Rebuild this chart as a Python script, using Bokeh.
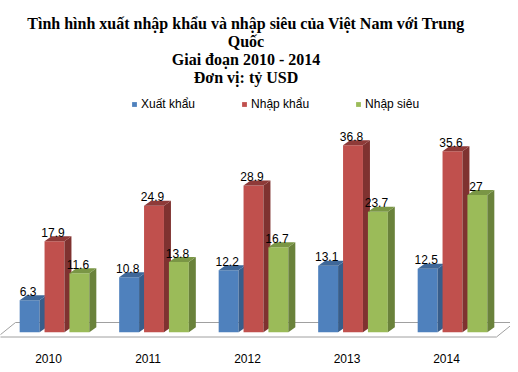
from bokeh.plotting import figure
from bokeh.models import Range1d, Legend, LegendItem
from bokeh.embed import file_html
from bokeh.resources import INLINE
from bokeh.core.properties import value

# ---------------- data ----------------
years = ["2010", "2011", "2012", "2013", "2014"]
series_names = ["Xuất khẩu", "Nhập khẩu", "Nhập siêu"]
xuat_khau = [6.3, 10.8, 12.2, 13.1, 12.5]
nhap_khau = [17.9, 24.9, 28.9, 36.8, 35.6]
nhap_sieu = [11.6, 13.8, 16.7, 23.7, 27]
title_lines = [
    "Tình hình xuất nhập khẩu và nhập siêu của Việt Nam với Trung",
    "Quốc",
    "Giai đoạn 2010 - 2014",
    "Đơn vị: tỷ USD",
]

# ---------------- styles ----------------
front_colors = ["#4F81BD", "#C0504D", "#9BBB59"]
side_colors = ["#385D8A", "#7F3230", "#6A823B"]
top_colors = ["#3F6899", "#8E3A38", "#7A9645"]

W, H = 510, 366
X0, GX = 54.0, 99.5      # px of first group centre, px per group
Y0, GY = 331.7, 5.08     # px (from top) of zero, px per unit

x_start, x_end = -X0 / GX, (W - X0) / GX
y_end, y_start = Y0 / GY, -(H - Y0) / GY

def px_x(px):
    return (px - X0) / GX

def px_y(py):
    return (Y0 - py) / GY

bar_w = 0.2
offsets = [-0.25, 0.0, 0.25]
ddx, ddy = 7 / GX, 5 / GY

p = figure(width=W, height=H, x_range=Range1d(x_start, x_end), y_range=Range1d(y_start, y_end),
           x_axis_type=None, y_axis_type=None, toolbar_location=None, output_backend="svg",
           min_border=0, background_fill_color="white", border_fill_color="white")
p.outline_line_color = None
p.grid.visible = False

n = len(years)
idx = list(range(n))

# floor
fl_front, fl_back = px_y(336.5), px_y(322)
fx0, fx1 = idx[0] - 0.573, idx[-1] + 0.442
fdx = 0.181
p.patch([fx0, fx1, fx1 + fdx, fx0 + fdx], [fl_front, fl_front, fl_back, fl_back],
        fill_color="white", line_color="#A0A0A0", line_width=1)

legend_items = []
all_series = [xuat_khau, nhap_khau, nhap_sieu]
for s, vals in enumerate(all_series):
    xs = [i + offsets[s] for i in idx]
    r = p.vbar(x=xs, top=vals, bottom=0, width=bar_w, fill_color=front_colors[s], line_color=None)
    legend_items.append(LegendItem(label=series_names[s], renderers=[r]))
    side_x, side_y, top_x, top_y = [], [], [], []
    for x, v in zip(xs, vals):
        xl, xr = x - bar_w / 2, x + bar_w / 2
        side_x.append([xr, xr + ddx, xr + ddx, xr])
        side_y.append([0, ddy, v + ddy, v])
        top_x.append([xl, xr, xr + ddx, xl + ddx])
        top_y.append([v, v, v + ddy, v + ddy])
    p.patches(side_x, side_y, fill_color=side_colors[s], line_color=None)
    p.patches(top_x, top_y, fill_color=top_colors[s], line_color=None)
    p.text(x=[x - 0.015 for x in xs], y=[v + 9 / GY for v in vals], text=[f"{v:g}" for v in vals],
           text_font=value("Liberation Sans"), text_font_size="12px", text_color="black",
           text_align="center", text_baseline="alphabetic")

# category labels
p.text(x=[i - 0.06 for i in idx], y=[px_y(357.5)] * n, text=years,
       text_font=value("Liberation Sans"), text_font_size="12px", text_color="black",
       text_align="center", text_baseline="middle")

# title
tb = [22.7, 40.5, 59.0, 77.0]
p.text(x=[px_x(245.5)] * len(title_lines), y=[px_y(b) for b in tb], text=title_lines,
       text_font=value("Liberation Serif"), text_font_size="16px", text_font_style="bold",
       text_color="black", text_align="center", text_baseline="alphabetic")

legend = Legend(items=legend_items, orientation="horizontal", location=(131, H - 111),
                glyph_width=6, glyph_height=6, label_standoff=4, spacing=46, padding=0, margin=0,
                label_height=12, label_text_font="Liberation Sans", label_text_font_size="12px",
                label_text_color="black", border_line_color=None, background_fill_alpha=0)
p.add_layout(legend)

open("out.html", "w").write(file_html(p, INLINE))
